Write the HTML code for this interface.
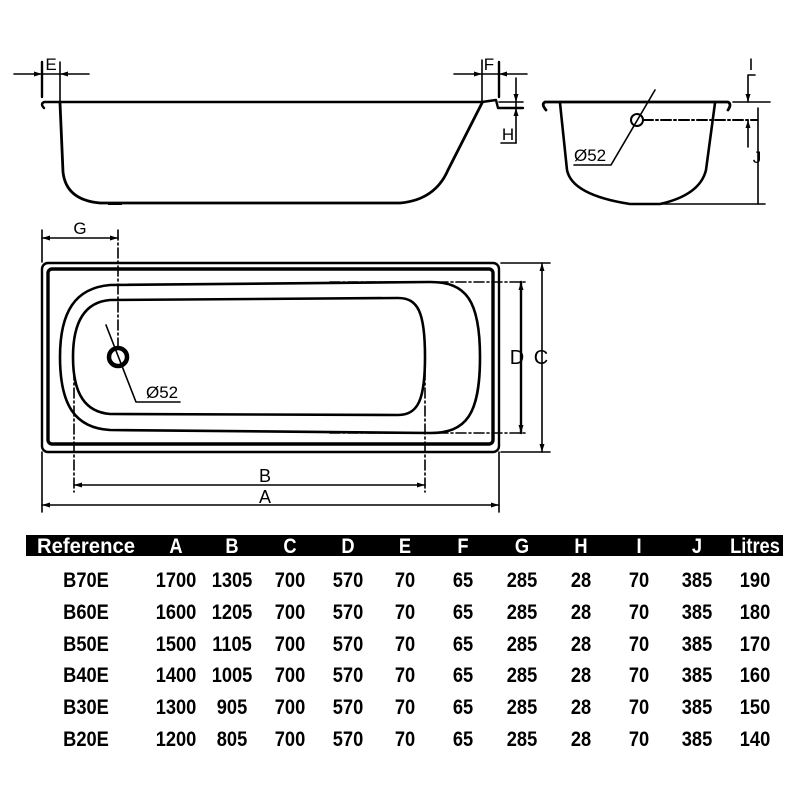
<!DOCTYPE html>
<html><head><meta charset="utf-8"><style>
html,body{margin:0;padding:0;background:#fff}
svg{display:block}
text{font-family:"Liberation Sans",Arial,sans-serif}
</style></head><body>
<svg width="800" height="800" viewBox="0 0 800 800" xmlns="http://www.w3.org/2000/svg">
<rect width="800" height="800" fill="#fff"/>
<g fill="none" stroke="#000" stroke-width="1.6" stroke-linecap="round" stroke-linejoin="round">
<!-- SIDE VIEW -->
<line x1="14" y1="74" x2="89" y2="74"/>
<line x1="42" y1="62" x2="42" y2="97" stroke-width="2.4"/>
<line x1="60" y1="62" x2="60" y2="103"/>
<path d="M44 108 Q40 104 44 102 L482 102" stroke-width="2.4"/>
<path d="M60 103 L63 172 Q66 200 100 203 L400 203 Q435 200 448 170 L482 103" stroke-width="2.8"/>
<rect x="108" y="202" width="14" height="3" fill="#000" stroke="none"/>
<line x1="454" y1="74" x2="527" y2="74"/>
<line x1="482" y1="60" x2="482" y2="102"/>
<line x1="499" y1="62" x2="499" y2="97" stroke-width="2.4"/>
<path d="M482 102 L496 100 L498 108 L523 108" stroke-width="2.4"/>
<line x1="499" y1="102" x2="523" y2="102"/>
<line x1="516" y1="78" x2="516" y2="143"/>
<line x1="501" y1="143" x2="516" y2="143"/>
<!-- END VIEW -->
<path d="M546 110 Q541 104 545 102 L728 102 Q732 104 728 110" stroke-width="2.8"/>
<path d="M560 103 L567 170 Q572 195 630 204 L660 204 Q700 195 706 170 L715 103" stroke-width="2.6"/>
<line x1="630" y1="204" x2="765" y2="204"/>
<circle cx="637" cy="120" r="6" stroke-width="2"/>
<line x1="643" y1="120" x2="757" y2="120" stroke-dasharray="10,3,2,3" stroke-width="2"/>
<path d="M655 90 L611 165 L574 165"/>
<line x1="733" y1="102" x2="770" y2="102"/>
<path d="M748 75 L755 75 M748 75 L748 102 M748 120 L748 147"/>
<line x1="758" y1="108" x2="758" y2="204"/>
<!-- TOP VIEW -->
<line x1="42" y1="230" x2="42" y2="262"/>
<line x1="42" y1="238" x2="118" y2="238"/>
<line x1="118" y1="230" x2="118" y2="347" stroke-dasharray="10,3,2,3"/>
<rect x="42" y="263" width="457" height="189" rx="6" stroke-width="2.4"/>
<rect x="48" y="269" width="445" height="175" rx="4" stroke-width="3.4"/>
<path d="M110 285 C75 288 60 312 60 357 C60 405 75 428 110 430 L430 433 C466 433 480 415 480 357 C480 300 466 282 430 282 Z" stroke-width="2.6"/>
<path d="M110 300 C86 302 73 320 73 357 C73 395 86 412 110 414 L398 415 C418 415 425 400 425 357 C425 312 418 298 398 298 Z" stroke-width="2.6"/>
<circle cx="118" cy="357" r="9" stroke-width="4.5"/>
<path d="M106 325 L136 402 L180 402"/>
<line x1="330" y1="282" x2="527" y2="282" stroke-dasharray="10,3,2,3"/>
<line x1="330" y1="433" x2="527" y2="433" stroke-dasharray="10,3,2,3"/>
<line x1="521" y1="282" x2="521" y2="433" stroke-width="2.4"/>
<line x1="501" y1="263" x2="550" y2="263"/>
<line x1="501" y1="452" x2="550" y2="452"/>
<line x1="542" y1="263" x2="542" y2="452"/>
<line x1="74" y1="370" x2="74" y2="492" stroke-dasharray="10,3,2,3"/>
<line x1="425" y1="370" x2="425" y2="492" stroke-dasharray="10,3,2,3"/>
<line x1="74" y1="485" x2="425" y2="485"/>
<line x1="42" y1="452" x2="42" y2="512"/>
<line x1="499" y1="452" x2="499" y2="512"/>
<line x1="42" y1="505" x2="499" y2="505"/>
</g>
<!-- arrowheads -->
<g fill="#000">
<path d="M42 74 l-8 -2.5 v5z M60 74 l8 -2.5 v5z M482 74 l-8 -2.5 v5z M499 74 l8 -2.5 v5z"/>
<path d="M516 102 l-2.5 -8 h5z M516 108 l-2.5 8 h5z M748 102 l-2.5 -8 h5z M748 120 l-2.5 8 h5z"/>
<path d="M42 238 l8 -2.5 v5z M118 238 l-8 -2.5 v5z M74 485 l8 -2.5 v5z M425 485 l-8 -2.5 v5z"/>
<path d="M42 505 l8 -2.5 v5z M499 505 l-8 -2.5 v5z M542 263 l-2.5 8 h5z M542 452 l-2.5 -8 h5z M521 282 l-2.5 8 h5z M521 433 l-2.5 -8 h5z"/>
</g>
<g fill="#000" font-size="17">
<text x="51" y="70" text-anchor="middle">E</text>
<text x="489" y="70" text-anchor="middle">F</text>
<text x="508" y="140" text-anchor="middle">H</text>
<text x="574" y="161">Ø52</text>
<text x="751" y="70" text-anchor="middle">I</text>
<text x="757" y="163" text-anchor="middle">J</text>
<text x="80" y="234" text-anchor="middle">G</text>
<text x="146" y="398">Ø52</text>
<text x="517" y="364" text-anchor="middle" font-size="20">D</text>
<text x="541" y="364" text-anchor="middle" font-size="20">C</text>
<text x="265" y="482" text-anchor="middle" font-size="18">B</text>
<text x="265" y="503" text-anchor="middle" font-size="18">A</text>
</g>
<!-- TABLE -->
<rect x="26" y="535" width="757" height="21" fill="#000"/>
<g font-size="21" fill="#fff" font-weight="bold">
<text x="37" y="553" textLength="98" lengthAdjust="spacingAndGlyphs">Reference</text>
</g>
<g font-size="21" font-weight="bold" text-anchor="middle">
<g transform="translate(86,0) scale(0.87,1)"><text y="587">B70E</text><text y="619">B60E</text><text y="651">B50E</text><text y="682">B40E</text><text y="714">B30E</text><text y="746">B20E</text></g>
<g transform="translate(176,0) scale(0.87,1)"><text y="553" fill="#fff">A</text><text y="587">1700</text><text y="619">1600</text><text y="651">1500</text><text y="682">1400</text><text y="714">1300</text><text y="746">1200</text></g>
<g transform="translate(232,0) scale(0.87,1)"><text y="553" fill="#fff">B</text><text y="587">1305</text><text y="619">1205</text><text y="651">1105</text><text y="682">1005</text><text y="714">905</text><text y="746">805</text></g>
<g transform="translate(290,0) scale(0.87,1)"><text y="553" fill="#fff">C</text><text y="587">700</text><text y="619">700</text><text y="651">700</text><text y="682">700</text><text y="714">700</text><text y="746">700</text></g>
<g transform="translate(348,0) scale(0.87,1)"><text y="553" fill="#fff">D</text><text y="587">570</text><text y="619">570</text><text y="651">570</text><text y="682">570</text><text y="714">570</text><text y="746">570</text></g>
<g transform="translate(405,0) scale(0.87,1)"><text y="553" fill="#fff">E</text><text y="587">70</text><text y="619">70</text><text y="651">70</text><text y="682">70</text><text y="714">70</text><text y="746">70</text></g>
<g transform="translate(463,0) scale(0.87,1)"><text y="553" fill="#fff">F</text><text y="587">65</text><text y="619">65</text><text y="651">65</text><text y="682">65</text><text y="714">65</text><text y="746">65</text></g>
<g transform="translate(522,0) scale(0.87,1)"><text y="553" fill="#fff">G</text><text y="587">285</text><text y="619">285</text><text y="651">285</text><text y="682">285</text><text y="714">285</text><text y="746">285</text></g>
<g transform="translate(581,0) scale(0.87,1)"><text y="553" fill="#fff">H</text><text y="587">28</text><text y="619">28</text><text y="651">28</text><text y="682">28</text><text y="714">28</text><text y="746">28</text></g>
<g transform="translate(639,0) scale(0.87,1)"><text y="553" fill="#fff">I</text><text y="587">70</text><text y="619">70</text><text y="651">70</text><text y="682">70</text><text y="714">70</text><text y="746">70</text></g>
<g transform="translate(697,0) scale(0.87,1)"><text y="553" fill="#fff">J</text><text y="587">385</text><text y="619">385</text><text y="651">385</text><text y="682">385</text><text y="714">385</text><text y="746">385</text></g>
<g transform="translate(755,0) scale(0.87,1)"><text y="553" fill="#fff">Litres</text><text y="587">190</text><text y="619">180</text><text y="651">170</text><text y="682">160</text><text y="714">150</text><text y="746">140</text></g>
</g>
</svg>
</body></html>
